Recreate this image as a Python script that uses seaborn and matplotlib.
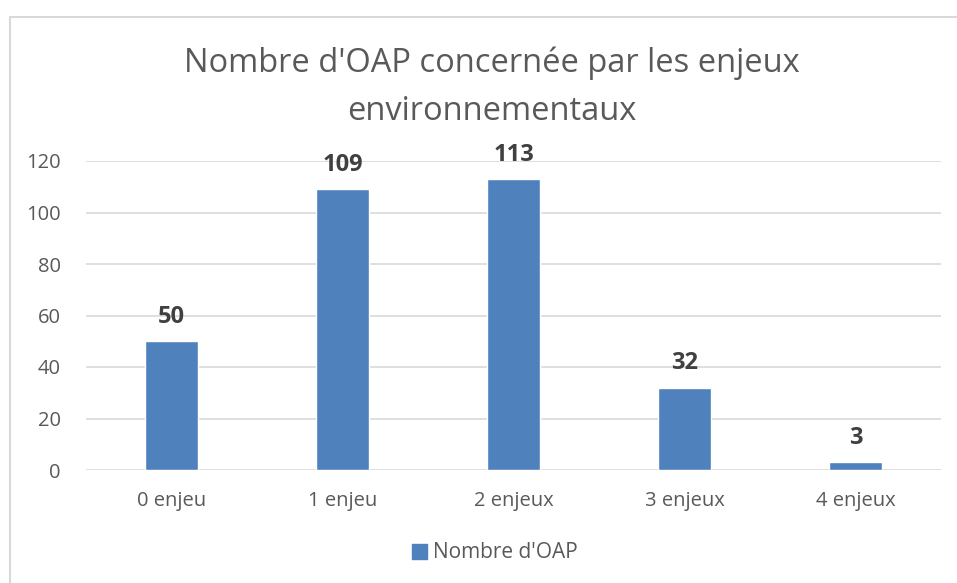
import pandas as pd
import matplotlib
matplotlib.use("Agg")
import matplotlib.pyplot as plt
import seaborn as sns
from matplotlib.patches import Rectangle

categories = ["0 enjeu", "1 enjeu", "2 enjeux", "3 enjeux", "4 enjeux"]
values = [50, 109, 113, 32, 3]
series_name = "Nombre d'OAP"
title = "Nombre d'OAP concernée par les enjeux\nenvironnementaux"

sns.set_theme(style="white")
plt.rcParams['font.family'] = ['Open Sans', 'DejaVu Sans']

grey = "#595959"
blue = "#4F81BD"

df = pd.DataFrame({"cat": categories, "val": values, "serie": series_name})

fig = plt.figure(figsize=(9.57, 5.83), dpi=100)
ax = fig.add_axes([86/957, 1 - 470/583, (941 - 86)/957, (470 - 161)/583])

sns.barplot(data=df, x="cat", y="val", hue="serie", palette=[blue],
            width=0.31, ax=ax, legend=False, saturation=1)

ax.set_ylim(0, 120)
ax.set_yticks(range(0, 121, 20))
ax.yaxis.grid(True, color="#D9D9D9", linewidth=1.2)
ax.set_axisbelow(True)
for s in ax.spines.values():
    s.set_visible(False)
ax.tick_params(axis="both", length=0, labelsize=14.5, labelcolor=grey)
ax.tick_params(axis="x", pad=15)
ax.tick_params(axis="y", pad=18)
ax.set_xlabel("")
ax.set_ylabel("")

# data labels above each bar
for p, v in zip(ax.patches, values):
    ax.annotate(str(v), (p.get_x() + p.get_width() / 2, p.get_height()),
                xytext=(0, 9), textcoords="offset points", ha="center", va="bottom",
                fontsize=17, fontweight="bold", color="#404040")

fig.text(492/957, 1 - 87/583, title, ha="center", va="center",
         fontsize=23.5, color=grey, linespacing=1.6)

handle = Rectangle((0, 0), 1, 1, color=blue)
fig.legend([handle], [series_name], loc="center", bbox_to_anchor=(495/957, 1 - 553/583),
           frameon=False, fontsize=15, labelcolor=grey, handlelength=0.7, handleheight=0.7,
           handletextpad=0.3)

# light chart border (cropped on right and bottom like the reference)
fig.patches.append(Rectangle((10/957, -0.02), 1.0, 1 - 17/583 + 0.02, transform=fig.transFigure,
                             fill=False, edgecolor="#D9D9D9", linewidth=1.5))

fig.savefig("out.png", dpi=100)
